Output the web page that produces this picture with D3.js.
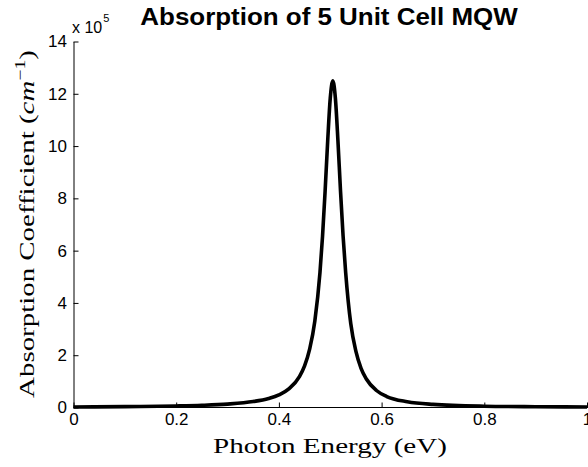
<!DOCTYPE html>
<html>
<head>
<meta charset="utf-8">
<script src="https://cdn.jsdelivr.net/npm/d3@7"></script>
<style>
  html, body { margin: 0; padding: 0; background: #fff; }
  svg { display: block; }
</style>
</head>
<body>
<svg id="chart" width="588" height="467"></svg>
<script>
// Photon energy (eV) and absorption coefficient (units of 1e5 cm^-1)
const energy = [0, 0.1, 0.2, 0.25, 0.3, 0.35, 0.38, 0.4, 0.42, 0.44, 0.45, 0.46, 0.47, 0.48, 0.485, 0.49, 0.495, 0.5, 0.505,
                0.51, 0.515, 0.52, 0.525, 0.53, 0.54, 0.55, 0.56, 0.57, 0.59, 0.61, 0.65, 0.7, 0.8, 0.9, 1.0];
const absorption = [0.02, 0.034, 0.059, 0.084, 0.13, 0.227, 0.345, 0.48, 0.72, 1.18, 1.59, 2.24, 3.31, 5.17, 6.56, 8.28, 10.19, 11.83, 12.5,
                    11.83, 10.19, 8.28, 6.56, 5.17, 3.2, 2.15, 1.5, 1.1, 0.65, 0.42, 0.22, 0.12, 0.05, 0.03, 0.02];
const xTicks = [0, 0.2, 0.4, 0.6, 0.8, 1];
const yTicks = [0, 2, 4, 6, 8, 10, 12, 14];

const svg = d3.select("#chart");
const m = { left: 73.5, right: 587, top: 41.5, bottom: 407.5 };

const x = d3.scaleLinear().domain([0, 1]).range([m.left, m.right]);
const y = d3.scaleLinear().domain([0, 14]).range([m.bottom, m.top]);

const sans = "'Liberation Sans', Arial, Helvetica, sans-serif";
const serif = "'Liberation Serif', 'Times New Roman', serif";

// horizontal stretch factor so a text group spans the target width
function fitWidth(g, target) {
  const w = g.node().getBBox().width;
  return target / w;
}

// curve
const line = d3.line().x((d, i) => x(energy[i])).y(d => y(d)).curve(d3.curveMonotoneX);
svg.append("path")
  .datum(absorption)
  .attr("d", line)
  .attr("fill", "none")
  .attr("stroke", "#000")
  .attr("stroke-width", 3.6)
  .attr("stroke-linejoin", "round");

// x axis (ticks point inward)
const xAxis = d3.axisBottom(x).tickValues(xTicks).tickSizeInner(-5).tickSizeOuter(0)
  .tickFormat(d => d === 0 ? "0" : d === 1 ? "1" : d3.format(".1f")(d));
const gx = svg.append("g").attr("transform", `translate(0,${m.bottom})`).call(xAxis);
gx.select(".domain").attr("stroke", "#000").attr("stroke-width", 1).attr("d", `M${m.left},0H588`);
gx.selectAll(".tick line").attr("stroke", "#000");
gx.selectAll(".tick text").attr("font-family", sans).attr("font-size", 17).attr("fill", "#000").attr("dy", null).attr("y", 17.5);

// y axis
const yAxis = d3.axisLeft(y).tickValues(yTicks).tickSizeInner(-5).tickSizeOuter(0).tickFormat(d3.format("d"));
const gy = svg.append("g").attr("transform", `translate(${m.left},0)`).call(yAxis);
gy.select(".domain").attr("stroke", "#000").attr("stroke-width", 1);
gy.selectAll(".tick line").attr("stroke", "#000");
gy.selectAll(".tick text").attr("font-family", sans).attr("font-size", 17).attr("fill", "#000").attr("x", -6.5);

// exponent marker
const expo = svg.append("text").attr("x", 72).attr("y", 33).attr("font-family", sans).attr("font-size", 16).attr("fill", "#000");
expo.append("tspan").text("x 10");
expo.append("tspan").attr("font-size", 11).attr("dx", 1).attr("dy", -11).text("5");

// title
const title = svg.append("g").attr("transform", "translate(329,25)");
const tt = title.append("text").attr("text-anchor", "middle").attr("font-family", sans)
  .attr("font-weight", "bold").attr("font-size", 23).attr("fill", "#000")
  .text("Absorption of 5 Unit Cell MQW");
tt.attr("transform", `scale(${fitWidth(title, 378)},1)`);

// x label
const xl = svg.append("g").attr("transform", "translate(330,453)");
xl.append("text").attr("text-anchor", "middle").attr("font-family", serif).attr("font-size", 22).attr("fill", "#000")
  .text("Photon Energy (eV)");
xl.select("text").attr("transform", `scale(${fitWidth(xl, 234)},1)`);

// y label
const yl = svg.append("g").attr("transform", "translate(34,224) rotate(-90)");
const ylt = yl.append("text").attr("text-anchor", "middle").attr("font-family", serif).attr("font-size", 22).attr("fill", "#000");
ylt.append("tspan").text("Absorption Coefficient (");
ylt.append("tspan").attr("font-style", "italic").text("cm");
ylt.append("tspan").attr("font-size", 15).attr("dy", -9).text("\u22121");
ylt.append("tspan").attr("dy", 9).text(")");
ylt.attr("transform", `scale(${fitWidth(yl, 348)},1)`);
</script>
</body>
</html>
